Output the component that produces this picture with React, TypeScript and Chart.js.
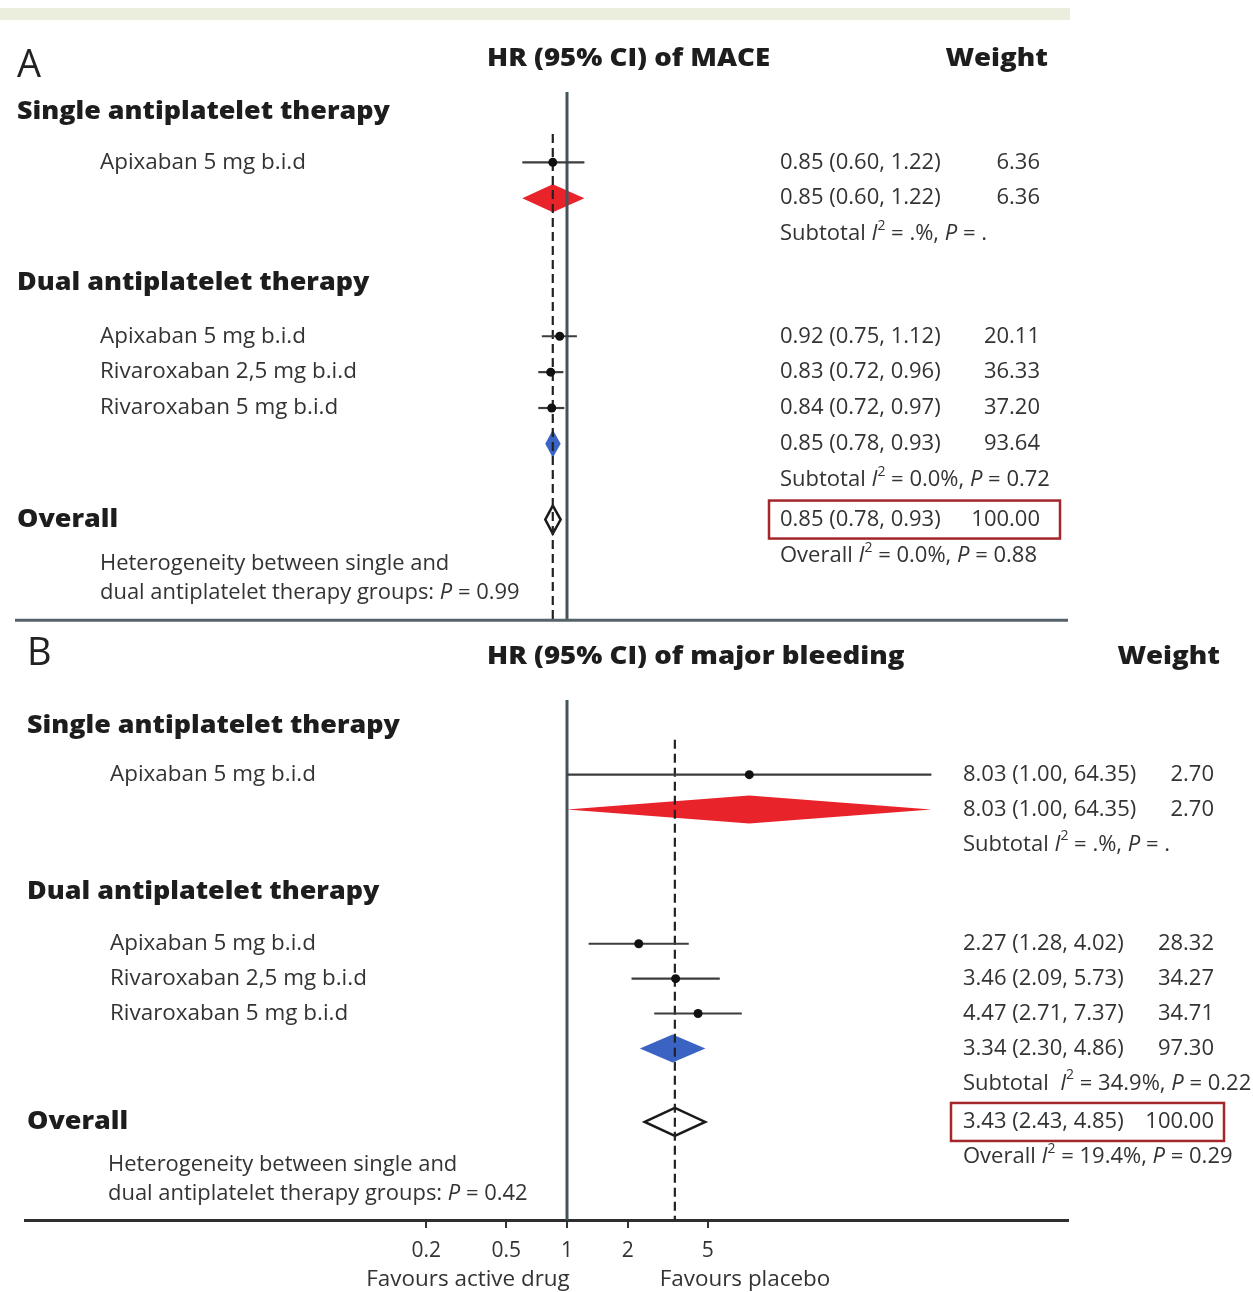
import React, { useEffect, useRef } from 'react';
import { Chart, registerables } from 'chart.js';

Chart.register(...registerables);

// ---------------- Data ----------------
const studyLabels = ['Apixaban 5 mg b.i.d', 'Apixaban 5 mg b.i.d', 'Rivaroxaban 2,5 mg b.i.d', 'Rivaroxaban 5 mg b.i.d'];
const groupHeaders = ['Single antiplatelet therapy', 'Dual antiplatelet therapy'];
const overallLabel = 'Overall';
const weightTitle = 'Weight';

// Panel A: MACE
const maceTitle = 'HR (95% CI) of MACE';
const maceHR = [0.85, 0.92, 0.83, 0.84];
const maceLow = [0.6, 0.75, 0.72, 0.72];
const maceHigh = [1.22, 1.12, 0.96, 0.97];
const maceWeight = ['6.36', '20.11', '36.33', '37.20'];
const macePooledHR = [0.85, 0.85, 0.85]; // single subtotal, dual subtotal, overall
const macePooledLow = [0.6, 0.78, 0.78];
const macePooledHigh = [1.22, 0.93, 0.93];
const macePooledWeight = ['6.36', '93.64', '100.00'];
const maceSubtotalStats = ['Subtotal _I_^2^ = .%, _P_ = .', 'Subtotal _I_^2^ = 0.0%, _P_ = 0.72'];
const maceOverallStat = 'Overall _I_^2^ = 0.0%, _P_ = 0.88';
const maceHeterogeneity = ['Heterogeneity between single and', 'dual antiplatelet therapy groups: _P_ = 0.99'];

// Panel B: major bleeding
const bleedTitle = 'HR (95% CI) of major bleeding';
const bleedHR = [8.03, 2.27, 3.46, 4.47];
const bleedLow = [1.0, 1.28, 2.09, 2.71];
const bleedHigh = [64.35, 4.02, 5.73, 7.37];
const bleedWeight = ['2.70', '28.32', '34.27', '34.71'];
const bleedPooledHR = [8.03, 3.34, 3.43];
const bleedPooledLow = [1.0, 2.3, 2.43];
const bleedPooledHigh = [64.35, 4.86, 4.85];
const bleedPooledWeight = ['2.70', '97.30', '100.00'];
const bleedSubtotalStats = ['Subtotal _I_^2^ = .%, _P_ = .', 'Subtotal  _I_^2^ = 34.9%, _P_ = 0.22'];
const bleedOverallStat = 'Overall _I_^2^ = 19.4%, _P_ = 0.29';
const bleedHeterogeneity = ['Heterogeneity between single and', 'dual antiplatelet therapy groups: _P_ = 0.42'];

// Axis
const xTicks = [0.2, 0.5, 1, 2, 5];
const favourLabels = ['Favours active drug', 'Favours placebo'];

// Row slots (shared by both panels)
const headerRows = [0, 4.75];
const studyRows = [1.4, 6.25, 7.25, 8.25];
const pooledRows = [2.4, 9.25, 11.36];
const subtotalRows = [3.4, 10.25];
const overallStatRow = 12.37;
const heteroRows = [12.6, 13.42];

// ---------------- Layout / style ----------------
const W = 1253;
const H = 1292;
const AREA_BOTTOM = 1220;
const X_MIN = 0.002042;
const X_MAX = 306.5;
const FONT = '"Open Sans", "DejaVu Sans", sans-serif';
const pooledColors = ['#e8232a', '#3a63c4', '#ffffff'];

const panels = [
  {
    axis: 'yA', pxPerRow: 36, firstRowPx: 108, letter: 'A', letterX: 17, letterRow: -1.28,
    title: maceTitle, titleRow: -1.47, titleX: 487, weightTitleRight: 1048,
    labelX: 17, studyX: 100, heteroX: 100, hrX: 780, weightRight: 1040, box: [769, 1060],
    lineTopRow: -0.56, dashTopRow: 0.61, ruleRow: 14.17,
    hr: maceHR, low: maceLow, high: maceHigh, weight: maceWeight,
    pHR: macePooledHR, pLow: macePooledLow, pHigh: macePooledHigh, pWeight: macePooledWeight,
    subStats: maceSubtotalStats, overallStat: maceOverallStat, hetero: maceHeterogeneity,
  },
  {
    axis: 'yB', pxPerRow: 35, firstRowPx: 724, letter: 'B', letterX: 27, letterRow: -2.06,
    title: bleedTitle, titleRow: -1.97, titleX: 487, weightTitleRight: 1220,
    labelX: 27, studyX: 110, heteroX: 108, hrX: 963, weightRight: 1214, box: [951, 1224],
    lineTopRow: -0.74, dashTopRow: 0.4, ruleRow: null as number | null,
    hr: bleedHR, low: bleedLow, high: bleedHigh, weight: bleedWeight,
    pHR: bleedPooledHR, pLow: bleedPooledLow, pHigh: bleedPooledHigh, pWeight: bleedPooledWeight,
    subStats: bleedSubtotalStats, overallStat: bleedOverallStat, hetero: bleedHeterogeneity,
  },
];

type TextStyle = { size: number; weight: number; color: string; sx: number };
const ST = {
  letter: { size: 38, weight: 400, color: '#222', sx: 1 },
  title: { size: 24, weight: 800, color: '#1d1d1d', sx: 1.15 },
  heading: { size: 25, weight: 800, color: '#1d1d1d', sx: 1.075 },
  label: { size: 22, weight: 400, color: '#333', sx: 1.02 },
  value: { size: 22, weight: 400, color: '#333', sx: 1.0 },
  hetero: { size: 21, weight: 400, color: '#333', sx: 1.045 },
  tick: { size: 21, weight: 400, color: '#333', sx: 1 },
};

function parseRich(s: string) {
  const segs: { t: string; i: boolean; s: boolean }[] = [];
  let cur = '';
  let it = false;
  let sup = false;
  for (const ch of s) {
    if (ch === '_' || ch === '^') {
      if (cur) segs.push({ t: cur, i: it, s: sup });
      cur = '';
      if (ch === '_') it = !it;
      else sup = !sup;
    } else cur += ch;
  }
  if (cur) segs.push({ t: cur, i: it, s: sup });
  return segs;
}

function drawText(ctx: CanvasRenderingContext2D, text: string, x: number, y: number, st: TextStyle, align: 'left' | 'right' | 'center' = 'left') {
  const segs = parseRich(text);
  const fontOf = (sg: { i: boolean; s: boolean }) =>
    `${sg.i ? 'italic ' : ''}${st.weight} ${sg.s ? Math.round(st.size * 0.62) : st.size}px ${FONT}`;
  const widths = segs.map((sg) => {
    ctx.font = fontOf(sg);
    return ctx.measureText(sg.t).width;
  });
  const total = widths.reduce((a, b) => a + b, 0) * st.sx;
  const x0 = align === 'right' ? x - total : align === 'center' ? x - total / 2 : x;
  ctx.save();
  ctx.translate(x0, y);
  ctx.scale(st.sx, 1);
  ctx.textBaseline = 'middle';
  ctx.textAlign = 'left';
  ctx.fillStyle = st.color;
  let off = 0;
  segs.forEach((sg, k) => {
    ctx.font = fontOf(sg);
    ctx.fillText(sg.t, off, sg.s ? -st.size * 0.36 : 0);
    off += widths[k];
  });
  ctx.restore();
}

const fmt = (v: number) => v.toFixed(2);
const hrText = (h: number, l: number, u: number) => `${fmt(h)} (${fmt(l)}, ${fmt(u)})`;

const forestPlugin = {
  id: 'forest',
  beforeDraw(chart: any) {
    const ctx = chart.ctx as CanvasRenderingContext2D;
    ctx.save();
    ctx.fillStyle = '#ffffff';
    ctx.fillRect(0, 0, chart.width, chart.height);
    ctx.fillStyle = '#eceedd';
    ctx.fillRect(0, 8, 1070, 12);
    ctx.restore();
  },
  beforeDatasetsDraw(chart: any) {
    const ctx = chart.ctx as CanvasRenderingContext2D;
    const xs = chart.scales.x;
    const area = chart.chartArea;
    panels.forEach((p) => {
      const ys = chart.scales[p.axis];
      const py = (r: number) => ys.getPixelForValue(r);
      const bottom = p.ruleRow !== null ? py(p.ruleRow) : area.bottom;
      ctx.save();
      // pooled diamonds
      p.pHR.forEach((h, j) => {
        const y = py(pooledRows[j]);
        const hh = 14;
        ctx.beginPath();
        ctx.moveTo(xs.getPixelForValue(p.pLow[j]), y);
        ctx.lineTo(xs.getPixelForValue(h), y - hh);
        ctx.lineTo(xs.getPixelForValue(p.pHigh[j]), y);
        ctx.lineTo(xs.getPixelForValue(h), y + hh);
        ctx.closePath();
        ctx.fillStyle = pooledColors[j];
        ctx.fill();
        if (j === 2) {
          ctx.strokeStyle = '#1a1a1a';
          ctx.lineWidth = 2.5;
          ctx.stroke();
        }
      });
      // null line (HR = 1)
      const x1 = xs.getPixelForValue(1);
      ctx.beginPath();
      ctx.moveTo(x1, py(p.lineTopRow));
      ctx.lineTo(x1, bottom);
      ctx.strokeStyle = '#47535b';
      ctx.lineWidth = 3;
      ctx.stroke();
      // overall estimate dashed line
      const xd = xs.getPixelForValue(p.pHR[2]);
      ctx.beginPath();
      ctx.setLineDash([9, 5]);
      ctx.moveTo(xd, py(p.dashTopRow));
      ctx.lineTo(xd, bottom);
      ctx.strokeStyle = '#222';
      ctx.lineWidth = 2.2;
      ctx.stroke();
      ctx.setLineDash([]);
      // CI whiskers
      p.hr.forEach((_, i) => {
        const y = py(studyRows[i]);
        ctx.beginPath();
        ctx.moveTo(xs.getPixelForValue(p.low[i]), y);
        ctx.lineTo(xs.getPixelForValue(p.high[i]), y);
        ctx.strokeStyle = '#3d3d3d';
        ctx.lineWidth = 2.2;
        ctx.stroke();
      });
      // separator rule
      if (p.ruleRow !== null) {
        ctx.beginPath();
        ctx.moveTo(15, bottom);
        ctx.lineTo(area.right, bottom);
        ctx.strokeStyle = '#55626a';
        ctx.lineWidth = 3;
        ctx.stroke();
      }
      ctx.restore();
    });
  },
  afterDraw(chart: any) {
    const ctx = chart.ctx as CanvasRenderingContext2D;
    const xs = chart.scales.x;
    panels.forEach((p) => {
      const ys = chart.scales[p.axis];
      const py = (r: number) => ys.getPixelForValue(r);
      drawText(ctx, p.letter, p.letterX, py(p.letterRow), ST.letter);
      drawText(ctx, p.title, p.titleX, py(p.titleRow), ST.title);
      drawText(ctx, weightTitle, p.weightTitleRight, py(p.titleRow), ST.title, 'right');
      groupHeaders.forEach((g, k) => drawText(ctx, g, p.labelX, py(headerRows[k]), ST.heading));
      drawText(ctx, overallLabel, p.labelX, py(pooledRows[2]), ST.heading);
      studyLabels.forEach((s, i) => {
        const y = py(studyRows[i]);
        drawText(ctx, s, p.studyX, y, ST.label);
        drawText(ctx, hrText(p.hr[i], p.low[i], p.high[i]), p.hrX, y, ST.value);
        drawText(ctx, p.weight[i], p.weightRight, y, ST.value, 'right');
      });
      p.pHR.forEach((h, j) => {
        const y = py(pooledRows[j]);
        drawText(ctx, hrText(h, p.pLow[j], p.pHigh[j]), p.hrX, y, ST.value);
        drawText(ctx, p.pWeight[j], p.weightRight, y, ST.value, 'right');
      });
      p.subStats.forEach((s, k) => drawText(ctx, s, p.hrX, py(subtotalRows[k]), ST.value));
      drawText(ctx, p.overallStat, p.hrX, py(overallStatRow), ST.value);
      p.hetero.forEach((s, k) => drawText(ctx, s, p.heteroX, py(heteroRows[k]), ST.hetero));
      // highlight box around overall estimate
      const yo = py(pooledRows[2]);
      ctx.save();
      ctx.strokeStyle = '#a3262b';
      ctx.lineWidth = 2.5;
      ctx.strokeRect(p.box[0], yo - 19, p.box[1] - p.box[0], 38);
      ctx.restore();
    });
    const x1 = xs.getPixelForValue(1);
    drawText(ctx, favourLabels[0], x1 - 99, 1280, ST.label, 'center');
    drawText(ctx, favourLabels[1], x1 + 178, 1280, ST.label, 'center');
  },
};

const pointStyle = {
  pointRadius: 4.5,
  pointHoverRadius: 4.5,
  backgroundColor: '#111',
  borderColor: '#111',
  borderWidth: 0,
  showLine: false,
};

function rowRange(pxPerRow: number, firstRowPx: number) {
  const min = -firstRowPx / pxPerRow;
  return { min, max: min + AREA_BOTTOM / pxPerRow };
}

export default function App() {
  const ref = useRef<HTMLCanvasElement>(null);
  useEffect(() => {
    const canvas = ref.current;
    if (!canvas) return;
    const rA = rowRange(panels[0].pxPerRow, panels[0].firstRowPx);
    const rB = rowRange(panels[1].pxPerRow, panels[1].firstRowPx);
    const chart = new Chart(canvas, {
      type: 'scatter',
      data: {
        datasets: [
          { label: 'MACE', data: studyRows.map((r, i) => ({ x: maceHR[i], y: r })), yAxisID: 'yA', ...pointStyle },
          { label: 'Major bleeding', data: studyRows.map((r, i) => ({ x: bleedHR[i], y: r })), yAxisID: 'yB', ...pointStyle },
        ],
      },
      options: {
        responsive: false,
        animation: false,
        devicePixelRatio: 1,
        layout: { padding: { left: 25, right: W - 1068, top: 0, bottom: 0 } },
        plugins: { legend: { display: false }, tooltip: { enabled: false } },
        scales: {
          x: {
            type: 'logarithmic',
            position: 'bottom',
            min: X_MIN,
            max: X_MAX,
            bounds: 'data',
            afterBuildTicks: (s: any) => {
              s.ticks = xTicks.map((v) => ({ value: v }));
            },
            afterFit: (s: any) => {
              s.height = H - AREA_BOTTOM;
            },
            ticks: {
              autoSkip: false,
              maxRotation: 0,
              padding: 10,
              color: ST.tick.color,
              font: { family: FONT, size: ST.tick.size },
              callback: (v: any) => String(v),
            },
            grid: { drawOnChartArea: false, drawTicks: true, tickLength: 8, color: '#333', lineWidth: 2 },
            border: { display: true, color: '#2e2e2e', width: 3 },
          },
          yA: { type: 'linear', display: false, reverse: true, min: rA.min, max: rA.max },
          yB: { type: 'linear', display: false, reverse: true, min: rB.min, max: rB.max },
        },
      } as any,
      plugins: [forestPlugin],
    });
    return () => chart.destroy();
  }, []);
  return (
    <div style={{ position: 'absolute', left: 0, top: 0, width: W, height: H }}>
      <canvas ref={ref} width={W} height={H} style={{ display: 'block' }} />
    </div>
  );
}
